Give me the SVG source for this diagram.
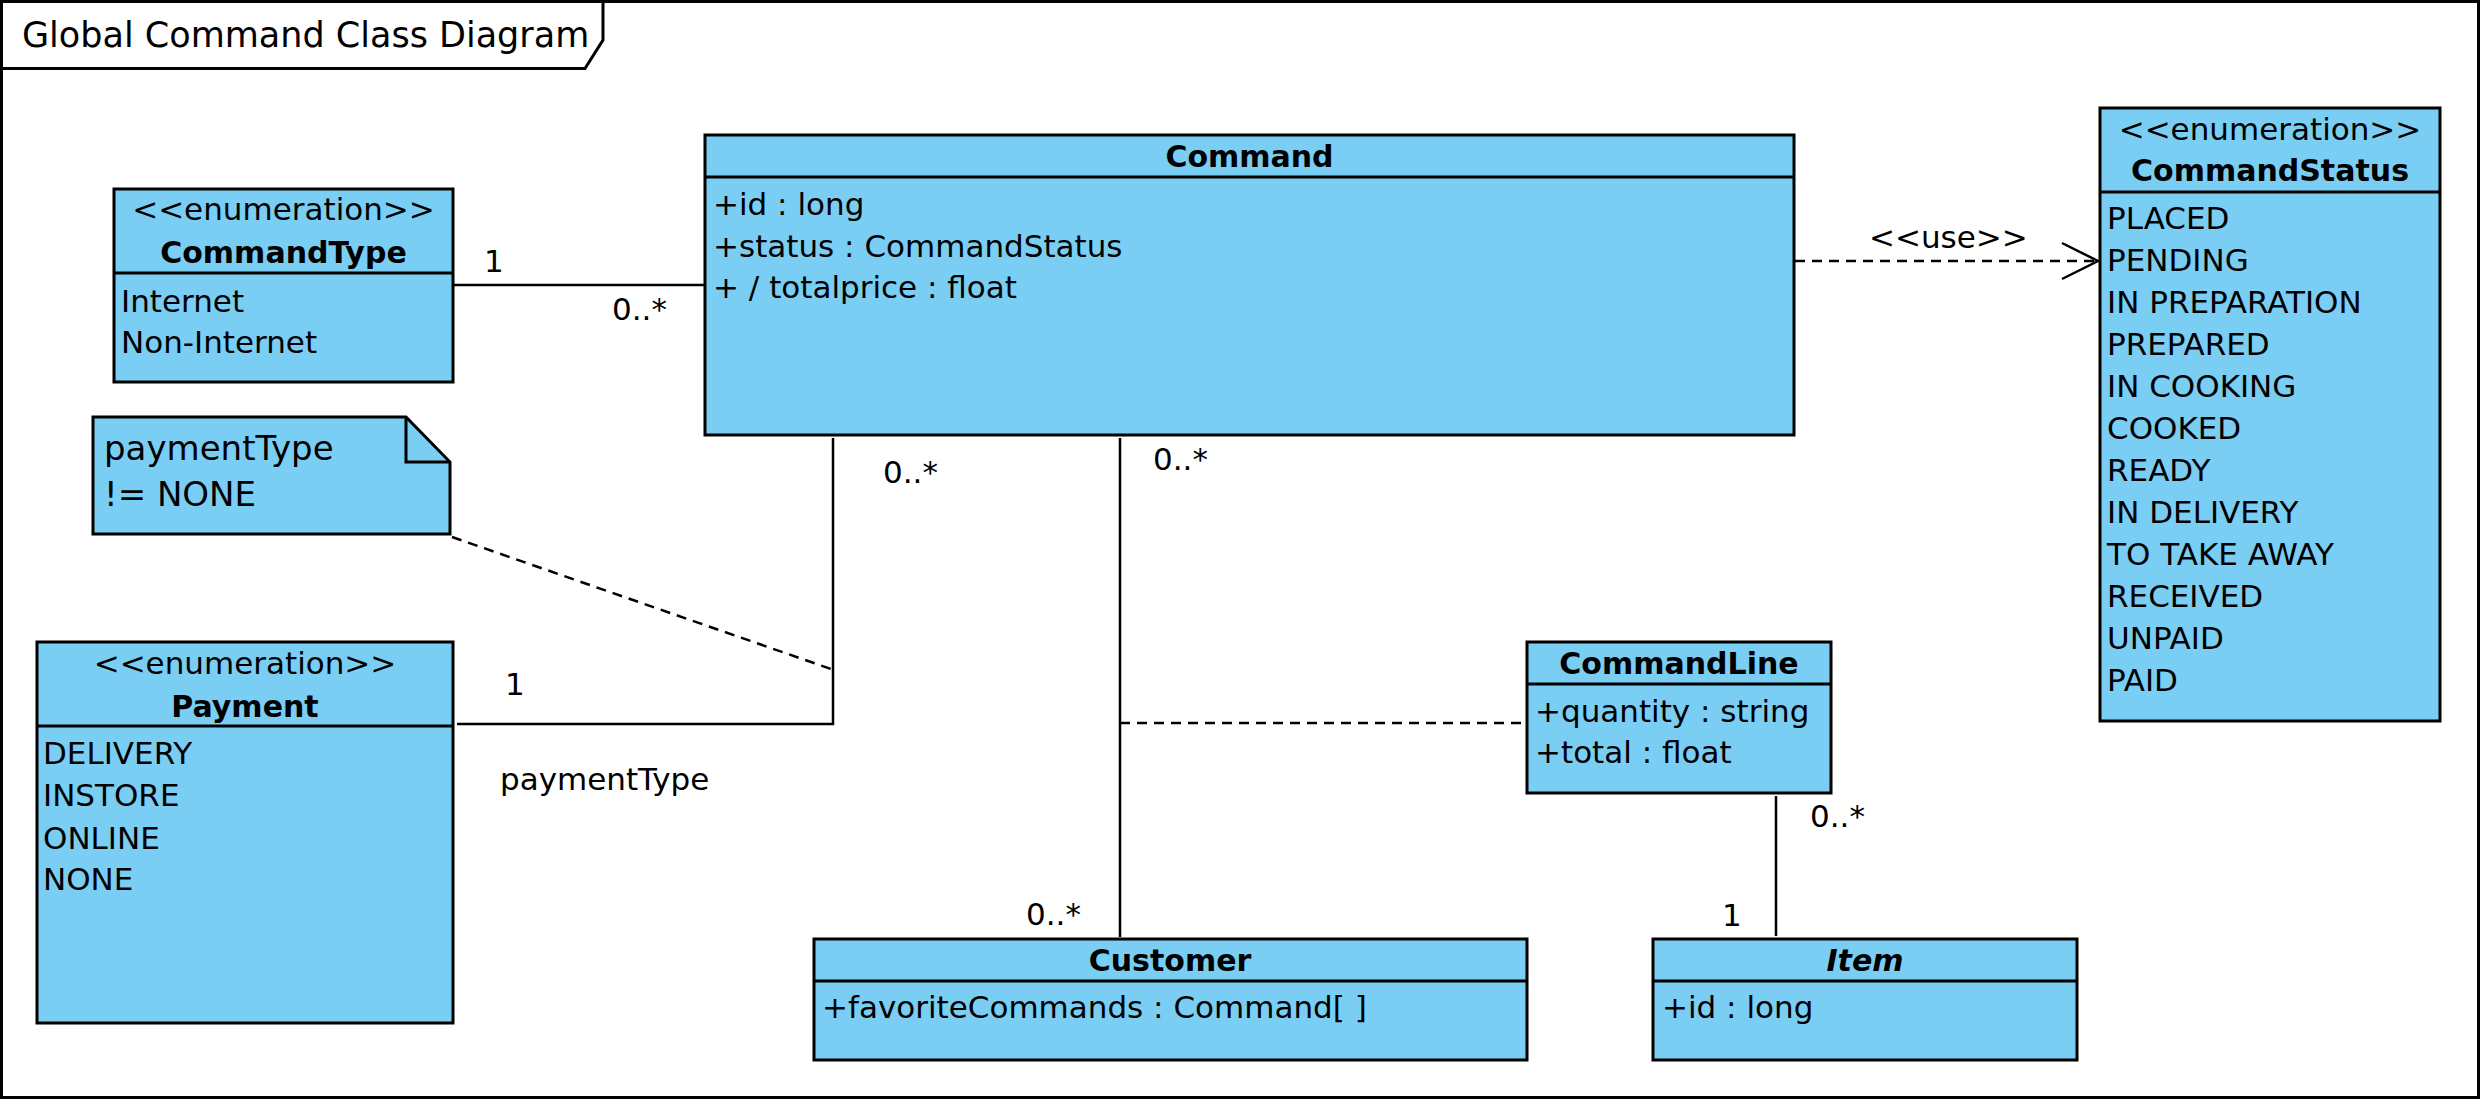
<svg xmlns="http://www.w3.org/2000/svg" width="2481" height="1101" viewBox="0 0 2481 1101">
<style>
text{font-family:"DejaVu Sans","Liberation Sans",sans-serif;font-size:31px;fill:#000}
.b{font-weight:bold;font-size:30px}
.c{text-anchor:middle}
.i{font-style:italic}
.box{fill:#7ACEF4;stroke:#000;stroke-width:3}
.div{stroke:#000;stroke-width:3}
.ln{fill:none;stroke:#000;stroke-width:2.5}
.dash{fill:none;stroke:#000;stroke-width:2.5;stroke-dasharray:10,7}
.title{font-size:35px}
.note{font-size:34px}
</style>
<rect x="1.5" y="1.5" width="2477" height="1096" fill="#fff" stroke="#000" stroke-width="3"/>
<path d="M1.5,68.5 L585,68.5 L603,40 L603,1.5" fill="none" stroke="#000" stroke-width="3"/>
<text class="title" x="22" y="47">Global Command Class Diagram</text>

<g id="connectors">
<line class="ln" x1="453" y1="285" x2="705" y2="285"/>
<text x="484" y="272">1</text>
<text x="612" y="320">0..*</text>
<polyline class="ln" points="833,438 833,724 457,724"/>
<text x="883" y="483">0..*</text>
<text x="505" y="695">1</text>
<text x="500" y="790">paymentType</text>
<line class="dash" x1="452" y1="537" x2="831" y2="669"/>
<line class="ln" x1="1120" y1="438" x2="1120" y2="937"/>
<text x="1153" y="470">0..*</text>
<text x="1026" y="925">0..*</text>
<line class="dash" x1="1120" y1="723" x2="1526" y2="723"/>
<line class="ln" x1="1776" y1="796" x2="1776" y2="936"/>
<text x="1810" y="827">0..*</text>
<text x="1722" y="926">1</text>
<line class="dash" x1="1795" y1="261" x2="2096" y2="261"/>
<polyline class="ln" points="2062,243 2098,261 2062,279"/>
<text x="1869" y="248">&lt;&lt;use&gt;&gt;</text>
</g>

<g id="CommandType">
<rect class="box" x="114" y="189" width="339" height="193"/>
<line class="div" x1="114" y1="273" x2="453" y2="273"/>
<text class="c" x="283.5" y="220">&lt;&lt;enumeration&gt;&gt;</text>
<text class="b c" x="283.5" y="263">CommandType</text>
<text x="121" y="312">Internet</text>
<text x="121" y="353">Non-Internet</text>
</g>

<g id="Command">
<rect class="box" x="705" y="135" width="1089" height="300"/>
<line class="div" x1="705" y1="177" x2="1794" y2="177"/>
<text class="b c" x="1249.5" y="167">Command</text>
<text x="713" y="215">+id : long</text>
<text x="713" y="257">+status : CommandStatus</text>
<text x="713" y="298">+ / totalprice : float</text>
</g>

<g id="CommandStatus">
<rect class="box" x="2100" y="108" width="340" height="613"/>
<line class="div" x1="2100" y1="192" x2="2440" y2="192"/>
<text class="c" x="2270" y="140">&lt;&lt;enumeration&gt;&gt;</text>
<text class="b c" x="2270" y="181">CommandStatus</text>
<text x="2107" y="229">PLACED</text>
<text x="2107" y="271">PENDING</text>
<text x="2107" y="313">IN PREPARATION</text>
<text x="2107" y="355">PREPARED</text>
<text x="2107" y="397">IN COOKING</text>
<text x="2107" y="439">COOKED</text>
<text x="2107" y="481">READY</text>
<text x="2107" y="523">IN DELIVERY</text>
<text x="2107" y="565">TO TAKE AWAY</text>
<text x="2107" y="607">RECEIVED</text>
<text x="2107" y="649">UNPAID</text>
<text x="2107" y="691">PAID</text>
</g>

<g id="Note">
<path class="box" d="M93,417 L406,417 L450,462 L450,534 L93,534 Z"/>
<path d="M406,417 L406,462 L450,462" fill="none" stroke="#000" stroke-width="3"/>
<text class="note" x="104" y="460">paymentType</text>
<text class="note" x="104" y="506">!= NONE</text>
</g>

<g id="Payment">
<rect class="box" x="37" y="642" width="416" height="381"/>
<line class="div" x1="37" y1="726" x2="453" y2="726"/>
<text class="c" x="245" y="674">&lt;&lt;enumeration&gt;&gt;</text>
<text class="b c" x="245" y="717">Payment</text>
<text x="43" y="764">DELIVERY</text>
<text x="43" y="806">INSTORE</text>
<text x="43" y="849">ONLINE</text>
<text x="43" y="890">NONE</text>
</g>

<g id="CommandLine">
<rect class="box" x="1527" y="642" width="304" height="151"/>
<line class="div" x1="1527" y1="684" x2="1831" y2="684"/>
<text class="b c" x="1679" y="674">CommandLine</text>
<text x="1535" y="722">+quantity : string</text>
<text x="1535" y="763">+total : float</text>
</g>

<g id="Customer">
<rect class="box" x="814" y="939" width="713" height="121"/>
<line class="div" x1="814" y1="981" x2="1527" y2="981"/>
<text class="b c" x="1170" y="971">Customer</text>
<text x="822" y="1018">+favoriteCommands : Command[ ]</text>
</g>

<g id="Item">
<rect class="box" x="1653" y="939" width="424" height="121"/>
<line class="div" x1="1653" y1="981" x2="2077" y2="981"/>
<text class="b c i" x="1865" y="971">Item</text>
<text x="1662" y="1018">+id : long</text>
</g>
</svg>
